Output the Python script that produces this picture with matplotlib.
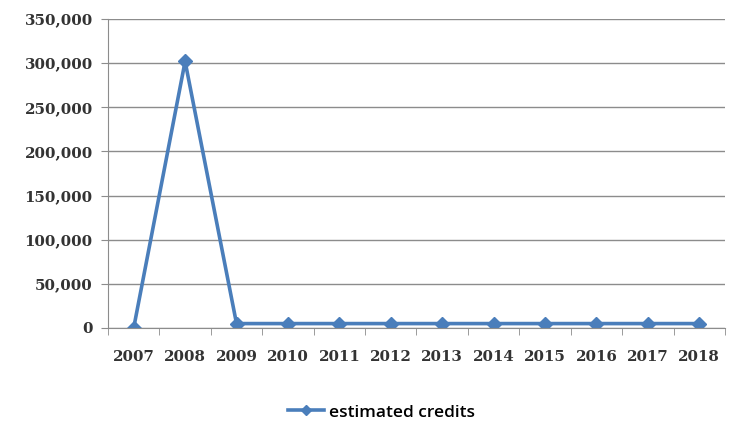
import matplotlib.pyplot as plt
import numpy as np
from matplotlib.ticker import FuncFormatter

years = ['2007', '2008', '2009', '2010', '2011', '2012', '2013', '2014', '2015', '2016', '2017', '2018']
credits = [0, 302000, 5000, 5000, 5000, 5000, 5000, 5000, 5000, 5000, 5000, 5000]

fig = plt.figure(figsize=(7.31, 4.23), dpi=100)
ax = fig.add_axes([0.1477, 0.2246, 0.8441, 0.7304])

x = np.arange(len(years))
ax.plot(x, credits, color='#4a7ebb', linewidth=2.6, marker='D', markersize=7,
        markerfacecolor='#4a7ebb', markeredgecolor='#4a7ebb', label='estimated credits')

ax.set_xlim(-0.5, len(years) - 0.5)
ax.set_ylim(0, 350000)
ax.set_yticks(np.arange(0, 350001, 50000))
ax.yaxis.set_major_formatter(FuncFormatter(lambda v, p: f'{int(v):,}'))
ax.grid(axis='y', color='#8c8c8c', linewidth=1)
ax.set_axisbelow(True)

# category labels centred, tick marks between categories
ax.set_xticks(x)
ax.set_xticklabels(years)
ax.set_xticks(np.arange(-0.5, len(years)), minor=True)
ax.tick_params(axis='x', which='major', length=0, pad=16)
ax.tick_params(axis='x', which='minor', length=5, color='#8c8c8c')
ax.tick_params(axis='y', length=5, color='#8c8c8c', pad=6)

for side in ['top', 'right']:
    ax.spines[side].set_visible(False)
for side in ['left', 'bottom']:
    ax.spines[side].set_color('#8c8c8c')

for lbl in ax.get_xticklabels() + ax.get_yticklabels():
    lbl.set_fontfamily('DejaVu Serif')
    lbl.set_fontweight('bold')
    lbl.set_fontsize(10.8)
    lbl.set_color('#333333')

fig.legend(loc='center', bbox_to_anchor=(0.522, 0.025), frameon=False,
           prop={'family': 'Open Sans', 'size': 12.5, 'weight': 'semibold'},
           handlelength=2.1, handletextpad=0.3, markerscale=0.8)

fig.savefig('out.png', dpi=100, facecolor='white')
